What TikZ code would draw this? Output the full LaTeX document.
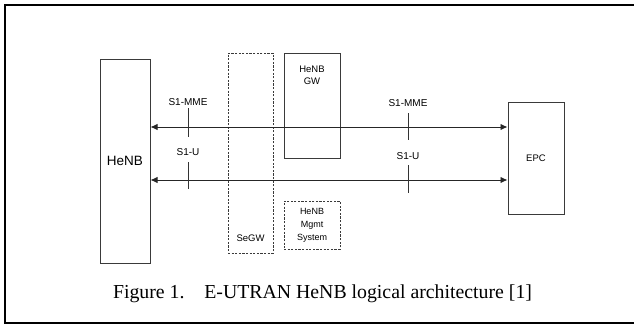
\documentclass[tikz,border=0pt]{standalone}
\usepackage{fontspec}
\setmainfont{Liberation Serif}
\newfontfamily\diafont{Liberation Sans}
\usetikzlibrary{positioning,arrows.meta}

\definecolor{boxgray}{HTML}{3A3A3A}

\tikzstyle{block} = [rectangle, draw=boxgray, line width=1pt, fill=white, text centered, inner sep=0pt, font=\diafont\fontsize{9.5}{11}\selectfont, align=center]
\tikzstyle{dashblock} = [block, dash pattern=on 2.2pt off 1.4pt, line width=0.8pt, fill=none]
\tikzstyle{arrow} = [draw=black!85, line width=0.9pt, {Latex[length=7pt,width=6.5pt]}-{Latex[length=7pt,width=6.5pt]}]
\tikzstyle{line} = [draw=black!80, line width=0.9pt]
\tikzstyle{iface} = [inner sep=0pt, font=\diafont\fontsize{10}{11.5}\selectfont]

\begin{document}
\begin{tikzpicture}[x=1pt, y=-1pt]
    \useasboundingbox (0,0) rectangle (634,327);
    % frame
    \draw[line width=2pt] (640,5) -- (5,5) -- (5,323) -- (640,323);

    % boxes
    \node[block, minimum width=50pt, minimum height=204pt, font=\diafont\fontsize{13.5}{15}\selectfont] (henb) at (125,161) {HeNB};
    \node[dashblock, minimum width=45pt, minimum height=200pt] (segw) at (250.5,153) {};
    \node[iface, font=\diafont\fontsize{9.5}{11}\selectfont] (segwlbl) at (250.5,238) {SeGW};
    \node[block, minimum width=56pt, minimum height=105pt] (gw) at (312,105.5) {};
    \node[iface, font=\diafont\fontsize{9.5}{12}\selectfont, align=center] (gwlbl) at (312,75) {HeNB\\GW};
    \node[dashblock, minimum width=56pt, minimum height=48pt, align=center, font=\diafont\fontsize{9}{13}\selectfont] (mgmt) at (312,225) {HeNB\\Mgmt\\System};
    \node[block, minimum width=56pt, minimum height=112pt] (epc) at (536,158) {EPC};

    % lines
    \coordinate (mmerow) at (0,127);
    \coordinate (urow) at (0,180);
    \draw[arrow] (henb.east |- mmerow) -- (epc.west |- mmerow);
    \draw[arrow] (henb.east |- urow) -- (epc.west |- urow);

    % interface labels
    \node[iface] (mmeA) at (188,102) {S1-MME};
    \node[iface] (uA) at (188,152) {S1-U};
    \node[iface] (mmeB) at (408,103) {S1-MME};
    \node[iface] (uB) at (408,156) {S1-U};
    \draw[line] (188,108) -- (188,137);
    \draw[line] (188,162) -- (188,189);
    \draw[line] (408,113) -- (408,140);
    \draw[line] (408,165) -- (408,193);

    % caption
    \node[font=\fontsize{19.8}{22}\selectfont] (caption) at (322.5,294) {Figure 1.\hspace{1em}E-UTRAN HeNB logical architecture [1]};
\end{tikzpicture}
\end{document}
